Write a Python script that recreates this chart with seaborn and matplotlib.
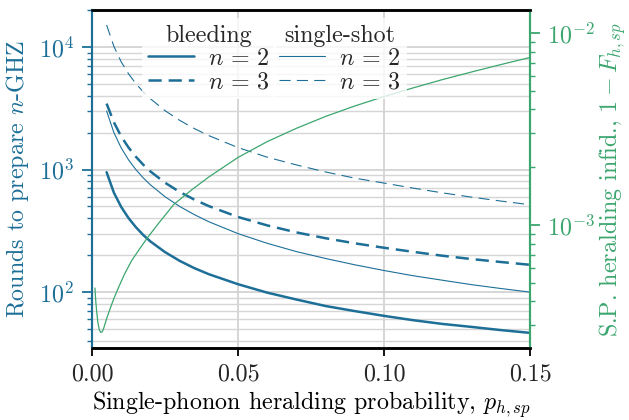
import numpy as np
import matplotlib
matplotlib.use("Agg")
import matplotlib.pyplot as plt
import seaborn as sns

# Heralding probability grid for the GHZ-preparation curves
p_rounds = [0.005, 0.0075, 0.01, 0.0125, 0.015, 0.0175, 0.02, 0.025, 0.03, 0.035,
            0.04, 0.05, 0.06, 0.07, 0.08, 0.09, 0.10, 0.11, 0.12, 0.13, 0.14, 0.15]

# Rounds to prepare an n-GHZ state
bleeding_n2 = [950, 647, 495, 402, 339, 293, 259, 212, 180, 157,
               140, 116, 99, 87, 77, 70, 64, 59, 55, 52, 49, 46.5]
bleeding_n3 = [3450, 2427, 1860, 1512, 1273, 1097, 965, 780, 657, 569,
               503, 410, 350, 307, 275, 250, 230, 213, 198, 186, 176, 167]
single_n2 = [3000, 2000, 1500, 1200, 1000, 857, 750, 600, 500, 429,
             375, 300, 250, 214, 188, 167, 150, 136, 125, 115, 107, 100]
single_n3 = [15100, 10100, 7550, 6040, 5030, 4310, 3780, 3020, 2520, 2160,
             1890, 1510, 1260, 1090, 955, 850, 775, 705, 645, 595, 553, 516]

# Single-phonon heralding infidelity, 1 - F_{h,sp}
p_infid = [0.001, 0.0013, 0.0016, 0.002, 0.0025, 0.003, 0.0035, 0.004, 0.005, 0.006,
           0.0075, 0.009, 0.011, 0.0135, 0.016, 0.019, 0.023, 0.028, 0.034, 0.04,
           0.05, 0.06, 0.07, 0.08, 0.09, 0.10, 0.11, 0.12, 0.13, 0.14, 0.15]
infid = [4.7e-4, 4.0e-4, 3.55e-4, 3.12e-4, 2.85e-4, 2.76e-4, 2.78e-4, 2.9e-4, 3.25e-4, 3.6e-4,
         4.15e-4, 4.7e-4, 5.5e-4, 6.5e-4, 7.4e-4, 8.6e-4, 1.03e-3, 1.28e-3, 1.52e-3, 1.78e-3,
         2.25e-3, 2.72e-3, 3.19e-3, 3.68e-3, 4.17e-3, 4.67e-3, 5.18e-3, 5.72e-3, 6.27e-3, 6.85e-3,
         7.46e-3]

x_ticks = [0.00, 0.05, 0.10, 0.15]
x_ticklabels = ["0.00", "0.05", "0.10", "0.15"]
legend_labels = [r"$n\,=\,2$", r"$n\,=\,3$"]

BLUE = "#1d6f98"
GREEN = "#3ca66f"
FS = 17.3

sns.set_theme(style="whitegrid")
plt.rcParams.update({
    "font.family": "serif",
    "font.serif": ["cmr10"],
    "mathtext.fontset": "cm",
    "axes.formatter.use_mathtext": True,
    "axes.unicode_minus": False,
    "font.size": FS,
    "lines.scale_dashes": False,
})

fig = plt.figure(figsize=(6.29, 4.20), dpi=100)
ax = fig.add_axes([92 / 629, 1 - 348 / 420, 438 / 629, 338 / 420])
ax2 = ax.twinx()

thick, thin = 1.8, 0.8
sns.lineplot(x=p_rounds, y=bleeding_n2, ax=ax, color=BLUE, linewidth=thick, sort=False)
sns.lineplot(x=p_rounds, y=bleeding_n3, ax=ax, color=BLUE, linewidth=thick, sort=False,
             linestyle=(0, (9.5, 5.0)))
sns.lineplot(x=p_rounds, y=single_n2, ax=ax, color=BLUE, linewidth=thin, sort=False)
sns.lineplot(x=p_rounds, y=single_n3, ax=ax, color=BLUE, linewidth=thin, sort=False,
             linestyle=(0, (8.0, 4.5)))
sns.lineplot(x=p_infid, y=infid, ax=ax2, color=GREEN, linewidth=0.9, sort=False)

lines = ax.get_lines()

ax.set_yscale("log")
ax2.set_yscale("log")
ax.set_xlim(0, 0.15)
ax.set_ylim(35, 20000)
ax2.set_ylim(2.29e-4, 1.318e-2)
ax.set_xticks(x_ticks)
ax.set_xticklabels(x_ticklabels)

# grid
ax.grid(True, which="major", axis="both", color="#cfcfcf", linewidth=1.2)
ax.grid(True, which="minor", axis="y", color="#d6d6d6", linewidth=1.0)
ax.grid(False, which="minor", axis="x")
ax2.grid(False, which="both")
ax.set_axisbelow(True)

# spines
for a in (ax, ax2):
    a.spines["top"].set_color("black")
    a.spines["top"].set_linewidth(1.8)
    a.spines["bottom"].set_color("black")
    a.spines["bottom"].set_linewidth(1.8)
    a.spines["left"].set_color(BLUE)
    a.spines["left"].set_linewidth(1.5)
    a.spines["right"].set_color(GREEN)
    a.spines["right"].set_linewidth(1.5)
ax.set_facecolor("white")

ax.tick_params(axis="x", which="major", direction="out", length=6, width=1.3,
               color="black", labelsize=FS, bottom=True, pad=5)
ax.tick_params(axis="y", which="major", direction="out", length=7, width=1.3,
               color=BLUE, labelcolor=BLUE, labelsize=FS, left=True, pad=6)
ax.tick_params(axis="y", which="minor", direction="out", length=3.6, width=1.0,
               color=BLUE, left=True)
ax2.tick_params(axis="y", which="major", direction="out", length=7, width=1.3,
                color=GREEN, labelcolor=GREEN, labelsize=FS, right=True, pad=5)
ax2.tick_params(axis="y", which="minor", direction="out", length=3.6, width=1.0,
                color=GREEN, right=True)

ax.set_xlabel(r"Single-phonon heralding probability, $p_{h,sp}$", fontsize=FS, color="black",
              labelpad=3)
ax.set_ylabel(r"Rounds to prepare $n$-GHZ", fontsize=FS, color=BLUE, labelpad=6)
ax2.set_ylabel(r"S.P. heralding infid., $1-F_{h,sp}$", fontsize=FS, color=GREEN, labelpad=2)

# legends: one column group per scheme
leg_kw = dict(loc="upper left", fontsize=FS, title_fontsize=FS, frameon=True,
              framealpha=0.8, edgecolor="none", facecolor="white", fancybox=False,
              handlelength=1.9, handletextpad=0.6, labelspacing=0.05,
              borderpad=0.25, borderaxespad=0.0)
leg1 = ax2.legend([lines[0], lines[1]], legend_labels, title="bleeding",
                  bbox_to_anchor=(0.114, 0.975), **leg_kw)
ax2.add_artist(leg1)
leg2 = ax2.legend([lines[2], lines[3]], legend_labels, title="single-shot",
                  bbox_to_anchor=(0.413, 0.975), **leg_kw)

fig.savefig("out.png", dpi=100)
